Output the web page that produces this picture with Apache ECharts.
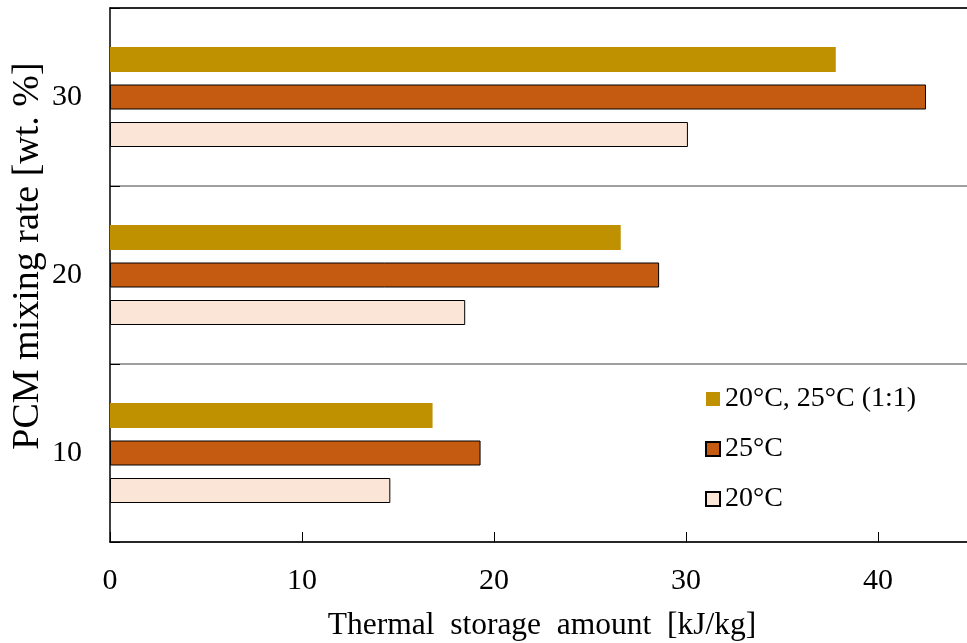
<!DOCTYPE html>
<html>
<head>
<meta charset="utf-8">
<script src="https://cdn.jsdelivr.net/npm/echarts@6/dist/echarts.min.js"></script>
<style>html,body{margin:0;padding:0;background:#fff;}#c{width:967px;height:643px;}</style>
</head>
<body>
<div id="c"></div>
<script>
const categories = ['10', '20', '30'];
const seriesNames = ['20°C, 25°C (1:1)', '25°C', '20°C'];
const mixValues = [16.8, 26.6, 37.8];
const v25 = [19.3, 28.6, 42.5];
const v20 = [14.6, 18.5, 30.1];
const xTicks = [0, 10, 20, 30, 40];

const FONT = '"Liberation Serif", "Times New Roman", serif';
const chart = echarts.init(document.getElementById('c'));
chart.setOption({
  animation: false,
  backgroundColor: '#fff',
  grid: { left: 110, right: -7, top: 8, bottom: 101, show: false,
    containLabel: false, outerBoundsMode: 'none' },
  legend: {
    orient: 'vertical', left: 700, top: 379,
    icon: 'rect',
    itemWidth: 14, itemHeight: 14, itemGap: 20,
    data: seriesNames,
    textStyle: { fontFamily: FONT, fontSize: 28, color: '#000', lineHeight: 30 }
  },
  xAxis: [{
    type: 'value', min: 0, max: 45, interval: 10,
    name: 'Thermal  storage  amount  [kJ/kg]', nameLocation: 'middle', nameGap: 68,
    nameMoveOverlap: false,
    nameTextStyle: { fontFamily: FONT, fontSize: 31.5, color: '#000' },
    axisLine: { show: true, lineStyle: { color: '#000', width: 1.5 } },
    axisTick: { show: true, inside: true, length: 10, lineStyle: { color: '#000' } },
    axisLabel: { fontFamily: FONT, fontSize: 30, color: '#000', margin: 24,
      formatter: v => (xTicks.indexOf(v) >= 0 ? String(v) : '') },
    splitLine: { show: false }
  }, {
    type: 'value', position: 'top', min: 0, max: 45, interval: 10, z: 10,
    axisLine: { show: true, lineStyle: { color: '#000', width: 1.5 } },
    axisTick: { show: false }, axisLabel: { show: false }, splitLine: { show: false }
  }],
  yAxis: {
    type: 'category', data: categories,
    name: 'PCM mixing rate [wt. %]', nameLocation: 'middle', nameGap: 63, nameRotate: 90,
    nameMoveOverlap: false,
    nameTextStyle: { fontFamily: FONT, fontSize: 38, color: '#000', padding: [0, 0, 0, 38] },
    axisLine: { show: true, lineStyle: { color: '#000', width: 1.5 } },
    axisTick: { show: true, inside: true, length: 10, lineStyle: { color: '#000' } },
    axisLabel: { fontFamily: FONT, fontSize: 30, color: '#000', margin: 28 },
    splitLine: { show: true, lineStyle: { color: '#7f7f7f', width: 1.5 } }
  },
  series: [
    { name: seriesNames[0], type: 'bar', data: mixValues, barWidth: 25, barGap: '50%',
      itemStyle: { color: '#BF9000' } },
    { name: seriesNames[1], type: 'bar', data: v25, barWidth: 25, barGap: '50%',
      itemStyle: { color: '#C55A11', borderColor: '#000', borderWidth: 1 } },
    { name: seriesNames[2], type: 'bar', data: v20, barWidth: 25, barGap: '50%',
      itemStyle: { color: '#FBE5D6', borderColor: '#000', borderWidth: 1 } }
  ]
});
</script>
</body>
</html>
